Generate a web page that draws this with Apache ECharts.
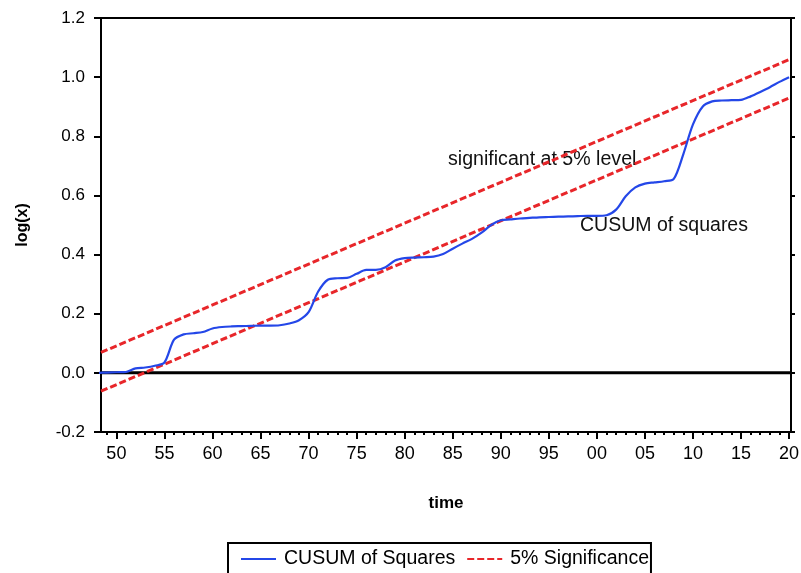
<!DOCTYPE html>
<html>
<head>
<meta charset="utf-8">
<script src="https://cdn.jsdelivr.net/npm/echarts@6/dist/echarts.min.js"></script>
<style>
  html, body { margin: 0; padding: 0; background: #fff; }
  #chart { width: 801px; height: 573px; }
</style>
</head>
<body>
<div id="chart"></div>
<script>
// Years of the recursive-residual sample
const years = [
  1948, 1949, 1950, 1951, 1952, 1953, 1954, 1955, 1956, 1957,
  1958, 1959, 1960, 1961, 1962, 1963, 1964, 1965, 1966, 1967,
  1968, 1969, 1970, 1971, 1972, 1973, 1974, 1975, 1976, 1977,
  1978, 1979, 1980, 1981, 1982, 1983, 1984, 1985, 1986, 1987,
  1988, 1989, 1990, 1991, 1992, 1993, 1994, 1995, 1996, 1997,
  1998, 1999, 2000, 2001, 2002, 2003, 2004, 2005, 2006, 2007,
  2008, 2009, 2010, 2011, 2012, 2013, 2014, 2015, 2016, 2017,
  2018, 2019, 2020
];

// CUSUM of squares statistic
const cusumSq = [
  0.000, 0.001, 0.002, 0.003, 0.015, 0.018, 0.024, 0.035, 0.112, 0.130,
  0.134, 0.138, 0.150, 0.155, 0.157, 0.158, 0.159, 0.160, 0.160, 0.161,
  0.167, 0.178, 0.205, 0.275, 0.315, 0.320, 0.321, 0.335, 0.348, 0.348,
  0.357, 0.380, 0.388, 0.390, 0.391, 0.393, 0.402, 0.420, 0.437, 0.453,
  0.474, 0.500, 0.516, 0.519, 0.522, 0.524, 0.526, 0.527, 0.528, 0.529,
  0.530, 0.531, 0.531, 0.533, 0.552, 0.597, 0.627, 0.640, 0.644, 0.648,
  0.656, 0.740, 0.840, 0.900, 0.918, 0.921, 0.922, 0.923, 0.935, 0.950,
  0.966, 0.984, 1.000
];

// Time-axis extent
const timeMin = 1948.4;
const timeMax = 2020.2;

// 5% significance bounds (straight lines, given by their end points)
const boundYears = [1948.4, 2020.2];
const upperBound = [0.069, 1.062];
const lowerBound = [-0.062, 0.932];

// Reference line at zero
const zeroLine = [0, 0];

// Axis ticks and labels
const yTicks = [-0.2, 0.0, 0.2, 0.4, 0.6, 0.8, 1.0, 1.2];
const labelYears = [1950, 1955, 1960, 1965, 1970, 1975, 1980, 1985, 1990,
                    1995, 2000, 2005, 2010, 2015, 2020];
const tickYears = years.slice(1);

const seriesNames = ['CUSUM of Squares', '5% Significance'];
const noteBand = 'significant at 5% level';
const noteCusum = 'CUSUM of squares';

const FONT = 'Liberation Sans, Arial, Helvetica, sans-serif';
const BLUE = '#2447e8';
const RED = '#e8262a';

const zip = (xs, ys) => xs.map((x, i) => [x, ys[i]]);

const chart = echarts.init(document.getElementById('chart'), null, { renderer: 'canvas' });

const xBase = {
  type: 'value',
  min: timeMin,
  max: timeMax,
  splitLine: { show: false },
  gridIndex: 0
};

chart.setOption({
  animation: false,
  backgroundColor: '#fff',
  textStyle: { fontFamily: FONT },
  grid: {
    left: 101, top: 18, right: 10, bottom: 141,
    outerBoundsMode: 'none'
  },
  xAxis: [
    Object.assign({}, xBase, {
      position: 'bottom',
      axisLine: { show: true, onZero: false, lineStyle: { color: '#000', width: 2 } },
      axisTick: {
        show: true, inside: false, length: 3,
        customValues: tickYears,
        lineStyle: { color: '#000', width: 2 }
      },
      axisLabel: { show: false },
      name: 'time',
      nameLocation: 'middle',
      nameGap: 63,
      nameTextStyle: { fontFamily: FONT, fontSize: 17, fontWeight: 'bold', color: '#000' }
    }),
    Object.assign({}, xBase, {
      position: 'bottom',
      axisLine: { show: false, onZero: false },
      axisTick: {
        show: true, inside: false, length: 7,
        customValues: labelYears,
        lineStyle: { color: '#000', width: 2 }
      },
      axisLabel: {
        show: true,
        customValues: labelYears,
        margin: 13,
        fontFamily: FONT,
        fontSize: 18,
        color: '#000',
        formatter: v => String(Math.round(v) % 100).padStart(2, '0')
      }
    }),
    Object.assign({}, xBase, {
      position: 'top',
      axisLine: { show: true, onZero: false, lineStyle: { color: '#000', width: 2 } },
      axisTick: { show: false },
      axisLabel: { show: false }
    })
  ],
  yAxis: [
    {
      type: 'value',
      min: yTicks[0],
      max: yTicks[yTicks.length - 1],
      interval: 0.2,
      position: 'left',
      splitLine: { show: false },
      axisLine: { show: true, onZero: false, lineStyle: { color: '#000', width: 2 } },
      axisTick: { show: true, inside: false, length: 7, lineStyle: { color: '#000', width: 2 } },
      axisLabel: {
        margin: 16,
        fontFamily: FONT,
        fontSize: 17,
        color: '#000',
        formatter: v => v.toFixed(1)
      },
      name: 'log(x)',
      nameLocation: 'middle',
      nameGap: 70,
      nameTextStyle: { fontFamily: FONT, fontSize: 16, fontWeight: 'bold', color: '#000' }
    },
    {
      type: 'value',
      min: yTicks[0],
      max: yTicks[yTicks.length - 1],
      interval: 0.2,
      position: 'right',
      splitLine: { show: false },
      axisLine: { show: true, onZero: false, lineStyle: { color: '#000', width: 2 } },
      axisTick: { show: true, inside: false, length: 4, lineStyle: { color: '#000', width: 2 } },
      axisLabel: { show: false }
    }
  ],
  legend: {
    data: [
      { name: seriesNames[0] },
      { name: seriesNames[1] }
    ],
    left: 228,
    top: 543,
    orient: 'horizontal',
    itemWidth: 35,
    itemHeight: 14,
    itemGap: 11,
    padding: [6, 2, 30, 12],
    borderColor: '#000',
    borderWidth: 2,
    borderRadius: 0,
    backgroundColor: '#fff',
    itemStyle: { opacity: 0 },
    textStyle: { fontFamily: FONT, fontSize: 19.5, color: '#000', padding: [0, 0, 0, 3] }
  },
  graphic: [
    {
      type: 'text', left: 448, top: 150, silent: true,
      style: { text: noteBand, fontFamily: FONT, fontSize: 19.6, fill: '#111' }
    },
    {
      type: 'text', left: 580, top: 216, silent: true,
      style: { text: noteCusum, fontFamily: FONT, fontSize: 19.5, fill: '#111' }
    }
  ],
  series: [
    {
      name: 'zero',
      type: 'line',
      xAxisIndex: 0, yAxisIndex: 0,
      data: zip(boundYears, zeroLine),
      symbol: 'none',
      silent: true,
      lineStyle: { color: '#000', width: 3 },
      z: 1
    },
    {
      name: seriesNames[1],
      type: 'line',
      xAxisIndex: 0, yAxisIndex: 0,
      data: zip(boundYears, upperBound),
      symbol: 'none',
      lineStyle: { color: RED, width: 3, type: [7, 3] },
      itemStyle: { color: RED },
      z: 2
    },
    {
      name: seriesNames[1],
      type: 'line',
      xAxisIndex: 0, yAxisIndex: 0,
      data: zip(boundYears, lowerBound),
      symbol: 'none',
      lineStyle: { color: RED, width: 3, type: [7, 3] },
      itemStyle: { color: RED },
      z: 2
    },
    {
      name: seriesNames[0],
      type: 'line',
      xAxisIndex: 0, yAxisIndex: 0,
      data: zip(years, cusumSq),
      symbol: 'none',
      smooth: 0.3,
      clip: true,
      lineStyle: { color: BLUE, width: 2.2 },
      itemStyle: { color: BLUE },
      z: 3
    }
  ]
});
</script>
</body>
</html>
